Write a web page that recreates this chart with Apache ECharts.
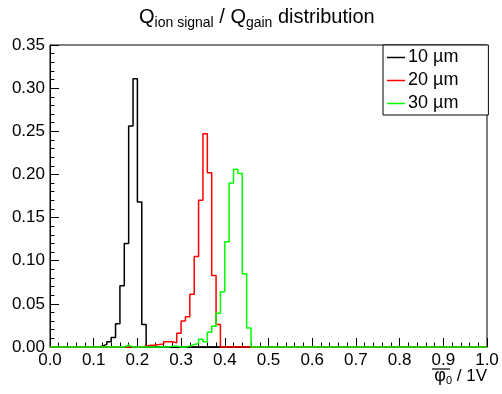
<!DOCTYPE html>
<html>
<head>
<meta charset="utf-8">
<script src="https://cdn.jsdelivr.net/npm/echarts@6/dist/echarts.min.js"></script>
<style>
  html, body { margin: 0; padding: 0; background: #fff; }
  #chart { width: 502px; height: 394px; }
</style>
</head>
<body>
<div id="chart"></div>
<script>
// histogram binning: 100 bins of 0.01 between 0 and 1
const nBins = 100;
const xMin = 0;
const xMax = 1;

// series names
const seriesNames = ['10 \u00b5m', '20 \u00b5m', '30 \u00b5m'];
const seriesColors = ['#000000', '#ff0000', '#00ff00'];

// bin contents, starting at the given lower edge
const um10Start = 0.11;
const um10 = [0.001, 0.003, 0.006, 0.011, 0.027, 0.071, 0.120, 0.256, 0.311, 0.168, 0.026];

const um20Start = 0.21;
const um20 = [0.001, 0.002, 0.002, 0.003, 0.0035, 0.006, 0.006, 0.005, 0.016, 0.030,
              0.035, 0.061, 0.105, 0.170, 0.247, 0.202, 0.083, 0.026];

const um30Start = 0.17;
const um30 = [0.002, 0, 0, 0, 0, 0, 0, 0, 0, 0,
              0.001, 0.001, 0, 0, 0.001, 0.003, 0.004, 0.009, 0.006, 0.017,
              0.024, 0.039, 0.064, 0.122, 0.190, 0.206, 0.201, 0.085, 0.022];

// axis tick labels
const xTickLabels = ['0.0', '0.1', '0.2', '0.3', '0.4', '0.5', '0.6', '0.7', '0.8', '0.9', '1.0'];
const yTickLabels = ['0.00', '0.05', '0.10', '0.15', '0.20', '0.25', '0.30', '0.35'];

const FONT = '"Liberation Sans", Arial, Helvetica, sans-serif';

// turn a partial bin list into step points [leftEdge, value] over the whole range
function buildHist(start, values) {
  const w = (xMax - xMin) / nBins;
  const first = Math.round((start - xMin) / w);
  const pts = [];
  for (let i = 0; i < nBins; i++) {
    const k = i - first;
    const v = (k >= 0 && k < values.length) ? values[k] : 0;
    pts.push([xMin + i * w, v]);
  }
  pts.push([xMax, pts[pts.length - 1][1]]);
  return pts;
}

const histData = [
  buildHist(um10Start, um10),
  buildHist(um20Start, um20),
  buildHist(um30Start, um30),
];

const chart = echarts.init(document.getElementById('chart'), null, { renderer: 'canvas' });

const option = {
  animation: false,
  backgroundColor: '#ffffff',
  title: {
    text: '{q|Q}{s|ion signal}{q| / Q}{s|gain}{q| distribution}',
    left: 139,
    top: 4,
    padding: 0,
    textStyle: {
      fontFamily: FONT,
      fontWeight: 'normal',
      rich: {
        q: { fontSize: 20, fontFamily: FONT, fontWeight: 'normal', color: '#000' },
        s: { fontSize: 14, fontFamily: FONT, fontWeight: 'normal', color: '#000', padding: [12, 0, 0, 0] },
      },
    },
  },
  legend: {
    orient: 'vertical',
    left: 383,
    top: 45,
    width: 104,
    data: seriesNames,
    icon: 'rect',
    itemWidth: 18,
    itemHeight: 1.5,
    itemGap: 4,
    padding: [3, 30, 2, 4],
    backgroundColor: '#fff',
    borderColor: '#000',
    borderWidth: 1,
    borderRadius: 0,
    textStyle: { fontFamily: FONT, fontSize: 18, color: '#000', lineHeight: 19, padding: [0, 0, 0, -2] },
  },
  grid: {
    left: 50,
    right: 15,
    top: 45,
    bottom: 47,
    show: true,
    borderColor: '#000',
    borderWidth: 1,
    backgroundColor: 'transparent',
  },
  xAxis: {
    type: 'value',
    min: xMin,
    max: xMax,
    interval: 0.1,
    axisLine: { show: true, lineStyle: { color: '#000', width: 1 } },
    axisTick: { show: true, inside: true, length: 9, lineStyle: { color: '#000' } },
    minorTick: { show: true, splitNumber: 5, length: 4.5, lineStyle: { color: '#000' } },
    splitLine: { show: false },
    axisLabel: {
      fontFamily: FONT,
      fontSize: 17,
      color: '#000',
      margin: 5,
      formatter: (v) => xTickLabels[Math.round(v * 10)],
    },
  },
  yAxis: {
    type: 'value',
    min: 0,
    max: 0.35,
    interval: 0.05,
    axisLine: { show: true, lineStyle: { color: '#000', width: 1 } },
    axisTick: { show: true, inside: true, length: 9, lineStyle: { color: '#000' } },
    minorTick: { show: true, splitNumber: 5, length: 4.5, lineStyle: { color: '#000' } },
    splitLine: { show: false },
    axisLabel: {
      fontFamily: FONT,
      fontSize: 17,
      color: '#000',
      margin: 5,
      formatter: (v) => yTickLabels[Math.round(v * 20)],
    },
  },
  graphic: [
    {
      type: 'text',
      right: 15,
      top: 367,
      style: {
        text: '{p|\u03c6}{s|0}{n| / 1V}',
        fill: '#000',
        rich: {
          p: { fontSize: 18, fontFamily: FONT, fill: '#000' },
          s: { fontSize: 11, fontFamily: FONT, fill: '#000', padding: [10, 0, 0, 0] },
          n: { fontSize: 17, fontFamily: FONT, fill: '#000' },
        },
      },
    },
    {
      // bar over phi
      type: 'line',
      shape: { x1: 432, y1: 369, x2: 450, y2: 369 },
      style: { stroke: '#000', lineWidth: 1.2 },
    },
  ],
  series: seriesNames.map((name, i) => ({
    name: name,
    type: 'line',
    step: 'end',
    symbol: 'none',
    clip: false,
    color: seriesColors[i],
    lineStyle: { color: seriesColors[i], width: 1.5 },
    data: histData[i],
    z: 3 + i,
  })),
};

chart.setOption(option);
</script>
</body>
</html>
